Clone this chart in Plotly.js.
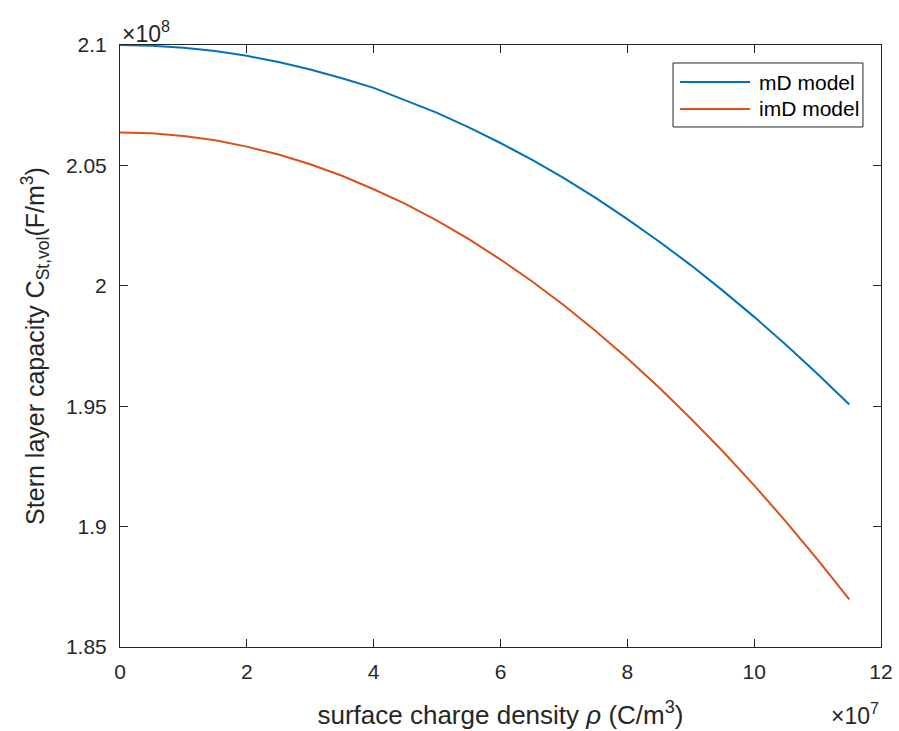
<!DOCTYPE html>
<html>
<head>
<meta charset="utf-8">
<script src="https://cdn.plot.ly/plotly-3.0.1.min.js"></script>
<style>html,body{margin:0;padding:0;background:#fff;}#chart{width:899px;height:731px;}</style>
</head>
<body>
<div id="chart"></div>
<script>
// x: surface charge density (units of 1e7 C/m^3)
const rho = [0, 0.5, 1, 1.5, 2, 2.5, 3, 3.5, 4, 4.5, 5, 5.5, 6, 6.5, 7, 7.5, 8, 8.5, 9, 9.5, 10, 10.5, 11, 11.5];
// y: Stern layer capacity (units of 1e8 F/m^3)
const mD = [2.1000, 2.0997, 2.0989, 2.0975, 2.0955, 2.0929, 2.0898, 2.0862, 2.0822, 2.0771, 2.0718, 2.0658, 2.0593, 2.0523, 2.0447, 2.0365, 2.0277, 2.0184, 2.0086, 1.9981, 1.9871, 1.9755, 1.9634, 1.9507];
const imD = [2.0637, 2.0633, 2.0622, 2.0604, 2.0578, 2.0545, 2.0505, 2.0457, 2.0401, 2.0340, 2.0271, 2.0194, 2.0109, 2.0018, 1.9919, 1.9812, 1.9699, 1.9578, 1.9449, 1.9314, 1.9171, 1.9021, 1.8863, 1.8698];
const seriesNames = ['mD model', 'imD model'];
const seriesColors = ['#0072BD', '#D95319'];
const xTicks = [0, 2, 4, 6, 8, 10, 12];
const yTicks = [1.85, 1.9, 1.95, 2, 2.05, 2.1];
const yTickText = ['1.85', '1.9', '1.95', '2', '2.05', '2.1'];

const ink = '#262626';
const font = 'Liberation Sans, Arial, Helvetica, sans-serif';

const traces = [
  {x: rho, y: mD, name: seriesNames[0], mode: 'lines', line: {color: seriesColors[0], width: 2}},
  {x: rho, y: imD, name: seriesNames[1], mode: 'lines', line: {color: seriesColors[1], width: 2}}
];

const axisCommon = {
  showgrid: false, zeroline: false, showline: true, linecolor: ink, linewidth: 1,
  mirror: 'ticks', ticks: 'inside', ticklen: 8, tickcolor: ink, tickwidth: 1,
  tickfont: {family: font, size: 21, color: ink}
};

// hand-built legend box (MATLAB style) in paper coordinates
const legBox = {x0: 0.7267, x1: 0.9763, y0: 0.8638, y1: 0.9701};
const legRows = [0.9385, 0.8937];
const legLineX = [0.7359, 0.8279];
const legTextX = 0.8371;

const shapes = [
  {type: 'rect', xref: 'paper', yref: 'paper', x0: legBox.x0, x1: legBox.x1, y0: legBox.y0, y1: legBox.y1,
   line: {color: ink, width: 1}, fillcolor: '#fff', layer: 'above'}
];
const legendAnn = [];
seriesNames.forEach((n, i) => {
  shapes.push({type: 'line', xref: 'paper', yref: 'paper', x0: legLineX[0], x1: legLineX[1], y0: legRows[i], y1: legRows[i],
    line: {color: seriesColors[i], width: 2}, layer: 'above'});
  legendAnn.push({xref: 'paper', yref: 'paper', x: legTextX, y: legRows[i], xanchor: 'left', yanchor: 'middle',
    text: n, showarrow: false, font: {family: font, size: 21, color: '#000'}});
});

const layout = {
  width: 899, height: 731,
  margin: {l: 120, r: 18, t: 45, b: 84},
  paper_bgcolor: '#fff', plot_bgcolor: '#fff',
  font: {family: font, color: ink},
  showlegend: false,
  xaxis: Object.assign({}, axisCommon, {
    range: [0, 12], tickmode: 'array', tickvals: xTicks, ticktext: xTicks.map(String), ticklabelstandoff: 6,
    title: {text: 'surface charge density <i>ρ</i> (C/m<sup>3</sup>)', font: {family: font, size: 26, color: ink}, standoff: 23}
  }),
  yaxis: Object.assign({}, axisCommon, {
    range: [1.85, 2.1], tickmode: 'array', tickvals: yTicks, ticktext: yTickText, ticklabelstandoff: 8,
    title: {text: 'Stern layer capacity C<sub>St,vol</sub>(F/m<sup>3</sup>)', font: {family: font, size: 25, color: ink}, standoff: 14}
  }),
  shapes: shapes,
  annotations: [
    {xref: 'paper', yref: 'paper', x: 0, y: 1, xanchor: 'left', yanchor: 'bottom', yshift: -4,
     text: '×10<sup>8</sup>', showarrow: false, font: {family: font, size: 23, color: ink}},
    {xref: 'paper', yref: 'paper', x: 1, y: 0, xanchor: 'right', yanchor: 'top', yshift: -50,
     text: '×10<sup>7</sup>', showarrow: false, font: {family: font, size: 23, color: ink}}
  ].concat(legendAnn)
};

Plotly.newPlot('chart', traces, layout, {displayModeBar: false, staticPlot: true});
</script>
</body>
</html>
